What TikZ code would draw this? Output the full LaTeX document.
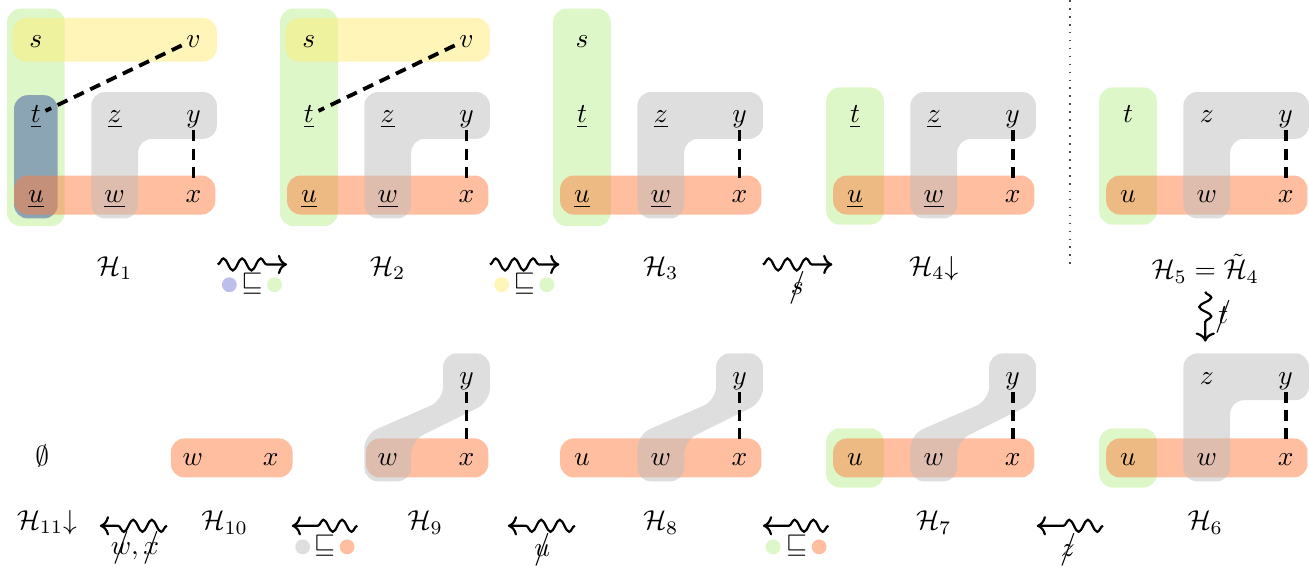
\documentclass[tikz,border=0pt]{standalone}
\usepackage{amsmath,amssymb}
\usetikzlibrary{arrows.meta, positioning, calc, decorations.pathmorphing, backgrounds}

\definecolor{hyYellow}{RGB}{255,235,115}
\definecolor{hyGreen}{RGB}{189,239,145}
\definecolor{hyBlue}{RGB}{58,83,160}
\definecolor{hyBlueDot}{RGB}{190,190,236}
\definecolor{hyRed}{RGB}{255,125,65}
\definecolor{hyGray}{RGB}{189,189,189}

\newcommand{\nope}[1]{\ooalign{$#1$\cr\hidewidth$\big/$\hidewidth\cr}}

\begin{document}
\begin{tikzpicture}[
		vtx/.style={inner sep=1.5pt, text height=1.5ex, text depth=0.25ex},
		link/.style={line width=1.4pt, dash pattern=on 4pt off 2.6pt},
		blob/.style={rounded corners=5pt, fill opacity=0.5},
		hgreen/.style={blob, fill=hyGreen},
		hyellow/.style={blob, fill=hyYellow},
		hblue/.style={blob, fill=hyBlue},
		hred/.style={blob, fill=hyRed},
		hgray/.style={blob, fill=hyGray},
		squig/.style={->, thick, decorate, decoration={snake, amplitude=2.2pt, segment length=6.8pt, post length=6.5pt}},
		dot/.style={circle, inner sep=0pt, minimum size=0.19cm, fill opacity=0.5},
		]
		\useasboundingbox (0,0) rectangle (16.78,-7.35);
		
		% H1
		\node[vtx] (s1) at (0.46,-0.51) {$s$};
		\node[vtx] (v1) at (2.48,-0.51) {$v$};
		\node[vtx] (t1) at (0.46,-1.48) {$\underline{t}$};
		\node[vtx] (z1) at (1.47,-1.48) {$\underline{z}$};
		\node[vtx] (y1) at (2.48,-1.48) {$y$};
		\node[vtx] (u1) at (0.46,-2.5) {$\underline{u}$};
		\node[vtx] (w1) at (1.47,-2.5) {$\underline{w}$};
		\node[vtx] (x1) at (2.48,-2.5) {$x$};
		\draw[link] (v1) -- (t1);
		\draw[link] (y1) -- (x1);
		\node (h1) at (1.47,-3.44) {$\mathcal{H}_1$};
		\begin{scope}[on background layer]
			\fill[hgreen] ($(s1)+(-0.37,0.4)$) rectangle ($(u1)+(0.37,-0.4)$);
			\fill[hyellow] ($(s1)+(-0.3,0.28)$) rectangle ($(v1)+(0.3,-0.28)$);
			\fill[hblue] ($(t1)+(-0.28,0.26)$) rectangle ($(u1)+(0.28,-0.3)$);
			\fill[hred] ($(u1)+(-0.28,0.25)$) rectangle ($(x1)+(0.28,-0.25)$);
			\fill[hgray] ($(w1)+(-0.3,-0.3)$) -- ($(w1)+(0.3,-0.3)$) |- ($(y1)+(0.3,-0.3)$)
			-- ($(y1)+(0.3,0.3)$) -- ($(z1)+(-0.3,0.3)$) -- cycle;
		\end{scope}
		
		% H2
		\begin{scope}[xshift=3.5cm]
			\node[vtx] (s2) at (0.46,-0.51) {$s$};
			\node[vtx] (v2) at (2.48,-0.51) {$v$};
			\node[vtx] (t2) at (0.46,-1.48) {$\underline{t}$};
			\node[vtx] (z2) at (1.47,-1.48) {$\underline{z}$};
			\node[vtx] (y2) at (2.48,-1.48) {$y$};
			\node[vtx] (u2) at (0.46,-2.5) {$\underline{u}$};
			\node[vtx] (w2) at (1.47,-2.5) {$\underline{w}$};
			\node[vtx] (x2) at (2.48,-2.5) {$x$};
			\draw[link] (v2) -- (t2);
			\draw[link] (y2) -- (x2);
			\node (h2) at (1.47,-3.44) {$\mathcal{H}_2$};
		\end{scope}
		\begin{scope}[on background layer]
			\fill[hgreen] ($(s2)+(-0.37,0.4)$) rectangle ($(u2)+(0.37,-0.4)$);
			\fill[hyellow] ($(s2)+(-0.3,0.28)$) rectangle ($(v2)+(0.3,-0.28)$);
			\fill[hred] ($(u2)+(-0.28,0.25)$) rectangle ($(x2)+(0.28,-0.25)$);
			\fill[hgray] ($(w2)+(-0.3,-0.3)$) -- ($(w2)+(0.3,-0.3)$) |- ($(y2)+(0.3,-0.3)$)
			-- ($(y2)+(0.3,0.3)$) -- ($(z2)+(-0.3,0.3)$) -- cycle;
		\end{scope}
		
		% H3
		\begin{scope}[xshift=7cm]
			\node[vtx] (s3) at (0.46,-0.51) {$s$};
			\node[vtx] (t3) at (0.46,-1.48) {$\underline{t}$};
			\node[vtx] (z3) at (1.47,-1.48) {$\underline{z}$};
			\node[vtx] (y3) at (2.48,-1.48) {$y$};
			\node[vtx] (u3) at (0.46,-2.5) {$\underline{u}$};
			\node[vtx] (w3) at (1.47,-2.5) {$\underline{w}$};
			\node[vtx] (x3) at (2.48,-2.5) {$x$};
			\draw[link] (y3) -- (x3);
			\node (h3) at (1.47,-3.44) {$\mathcal{H}_3$};
		\end{scope}
		\begin{scope}[on background layer]
			\fill[hgreen] ($(s3)+(-0.37,0.4)$) rectangle ($(u3)+(0.37,-0.4)$);
			\fill[hred] ($(u3)+(-0.28,0.25)$) rectangle ($(x3)+(0.28,-0.25)$);
			\fill[hgray] ($(w3)+(-0.3,-0.3)$) -- ($(w3)+(0.3,-0.3)$) |- ($(y3)+(0.3,-0.3)$)
			-- ($(y3)+(0.3,0.3)$) -- ($(z3)+(-0.3,0.3)$) -- cycle;
		\end{scope}
		
		% H4
		\begin{scope}[xshift=10.5cm]
			\node[vtx] (t4) at (0.46,-1.48) {$\underline{t}$};
			\node[vtx] (z4) at (1.47,-1.48) {$\underline{z}$};
			\node[vtx] (y4) at (2.48,-1.48) {$y$};
			\node[vtx] (u4) at (0.46,-2.5) {$\underline{u}$};
			\node[vtx] (w4) at (1.47,-2.5) {$\underline{w}$};
			\node[vtx] (x4) at (2.48,-2.5) {$x$};
			\draw[link] (y4) -- (x4);
			\node (h4) at (1.47,-3.44) {$\mathcal{H}_4{\downarrow}$};
		\end{scope}
		\begin{scope}[on background layer]
			\fill[hgreen] ($(t4)+(-0.37,0.36)$) rectangle ($(u4)+(0.37,-0.38)$);
			\fill[hred] ($(u4)+(-0.28,0.25)$) rectangle ($(x4)+(0.28,-0.25)$);
			\fill[hgray] ($(w4)+(-0.3,-0.3)$) -- ($(w4)+(0.3,-0.3)$) |- ($(y4)+(0.3,-0.3)$)
			-- ($(y4)+(0.3,0.3)$) -- ($(z4)+(-0.3,0.3)$) -- cycle;
		\end{scope}
		
		% H5
		\begin{scope}[xshift=14cm]
			\node[vtx] (t5) at (0.46,-1.48) {$t$};
			\node[vtx] (z5) at (1.47,-1.48) {$z$};
			\node[vtx] (y5) at (2.48,-1.48) {$y$};
			\node[vtx] (u5) at (0.46,-2.5) {$u$};
			\node[vtx] (w5) at (1.47,-2.5) {$w$};
			\node[vtx] (x5) at (2.48,-2.5) {$x$};
			\draw[link] (y5) -- (x5);
			\node (h5) at (1.45,-3.44) {$\mathcal{H}_5=\tilde{\mathcal{H}}_4$};
		\end{scope}
		\begin{scope}[on background layer]
			\fill[hgreen] ($(t5)+(-0.37,0.36)$) rectangle ($(u5)+(0.37,-0.38)$);
			\fill[hred] ($(u5)+(-0.28,0.25)$) rectangle ($(x5)+(0.28,-0.25)$);
			\fill[hgray] ($(w5)+(-0.3,-0.3)$) -- ($(w5)+(0.3,-0.3)$) |- ($(y5)+(0.3,-0.3)$)
			-- ($(y5)+(0.3,0.3)$) -- ($(z5)+(-0.3,0.3)$) -- cycle;
		\end{scope}
		
		% H6
		\begin{scope}[xshift=14cm]
			\node[vtx] (z6) at (1.47,-4.83) {$z$};
			\node[vtx] (y6) at (2.48,-4.83) {$y$};
			\node[vtx] (u6) at (0.46,-5.87) {$u$};
			\node[vtx] (w6) at (1.47,-5.87) {$w$};
			\node[vtx] (x6) at (2.48,-5.87) {$x$};
			\draw[link] (y6) -- (x6);
			\node (h6) at (1.45,-6.7) {$\mathcal{H}_6$};
		\end{scope}
		\begin{scope}[on background layer]
			\fill[hgreen] ($(u6)+(-0.37,0.38)$) rectangle ($(u6)+(0.37,-0.38)$);
			\fill[hred] ($(u6)+(-0.28,0.25)$) rectangle ($(x6)+(0.28,-0.25)$);
			\fill[hgray] ($(w6)+(-0.3,-0.3)$) -- ($(w6)+(0.3,-0.3)$) |- ($(y6)+(0.3,-0.3)$)
			-- ($(y6)+(0.3,0.3)$) -- ($(z6)+(-0.3,0.3)$) -- cycle;
		\end{scope}
		
		% H7
		\begin{scope}[xshift=10.5cm]
			\node[vtx] (y7) at (2.48,-4.83) {$y$};
			\node[vtx] (u7) at (0.46,-5.87) {$u$};
			\node[vtx] (w7) at (1.47,-5.87) {$w$};
			\node[vtx] (x7) at (2.48,-5.87) {$x$};
			\draw[link] (y7) -- (x7);
			\node (h7) at (1.47,-6.7) {$\mathcal{H}_7$};
		\end{scope}
		\begin{scope}[on background layer]
			\fill[hgreen] ($(u7)+(-0.37,0.38)$) rectangle ($(u7)+(0.37,-0.38)$);
			\fill[hred] ($(u7)+(-0.28,0.25)$) rectangle ($(x7)+(0.28,-0.25)$);
			\fill[hgray] ($(w7)+(-0.3,-0.3)$) -- ($(w7)+(0.3,-0.3)$) -- ($(w7)+(0.3,0.22)$)
			-- ($(y7)+(0.3,-0.32)$) -- ($(y7)+(0.3,0.3)$) -- ($(y7)+(-0.3,0.3)$)
			-- ($(y7)+(-0.3,-0.3)$) -- ($(w7)+(-0.3,0.3)$) -- cycle;
		\end{scope}
		
		% H8
		\begin{scope}[xshift=7cm]
			\node[vtx] (y8) at (2.48,-4.83) {$y$};
			\node[vtx] (u8) at (0.46,-5.87) {$u$};
			\node[vtx] (w8) at (1.47,-5.87) {$w$};
			\node[vtx] (x8) at (2.48,-5.87) {$x$};
			\draw[link] (y8) -- (x8);
			\node (h8) at (1.47,-6.7) {$\mathcal{H}_8$};
		\end{scope}
		\begin{scope}[on background layer]
			\fill[hred] ($(u8)+(-0.28,0.25)$) rectangle ($(x8)+(0.28,-0.25)$);
			\fill[hgray] ($(w8)+(-0.3,-0.3)$) -- ($(w8)+(0.3,-0.3)$) -- ($(w8)+(0.3,0.22)$)
			-- ($(y8)+(0.3,-0.32)$) -- ($(y8)+(0.3,0.3)$) -- ($(y8)+(-0.3,0.3)$)
			-- ($(y8)+(-0.3,-0.3)$) -- ($(w8)+(-0.3,0.3)$) -- cycle;
		\end{scope}
		
		% H9
		\begin{scope}[xshift=3.5cm]
			\node[vtx] (y9) at (2.48,-4.83) {$y$};
			\node[vtx] (w9) at (1.47,-5.87) {$w$};
			\node[vtx] (x9) at (2.48,-5.87) {$x$};
			\draw[link] (y9) -- (x9);
			\node (h9) at (1.95,-6.7) {$\mathcal{H}_9$};
		\end{scope}
		\begin{scope}[on background layer]
			\fill[hred] ($(w9)+(-0.28,0.25)$) rectangle ($(x9)+(0.28,-0.25)$);
			\fill[hgray] ($(w9)+(-0.3,-0.3)$) -- ($(w9)+(0.3,-0.3)$) -- ($(w9)+(0.3,0.22)$)
			-- ($(y9)+(0.3,-0.32)$) -- ($(y9)+(0.3,0.3)$) -- ($(y9)+(-0.3,0.3)$)
			-- ($(y9)+(-0.3,-0.3)$) -- ($(w9)+(-0.3,0.3)$) -- cycle;
		\end{scope}
		
		% H10 and H11
		\node[vtx] (w10) at (2.47,-5.87) {$w$};
		\node[vtx] (x10) at (3.47,-5.87) {$x$};
		\node (h10) at (2.88,-6.7) {$\mathcal{H}_{10}$};
		\begin{scope}[on background layer]
			\fill[hred] ($(w10)+(-0.28,0.25)$) rectangle ($(x10)+(0.28,-0.25)$);
		\end{scope}
		\node[vtx] (e11) at (0.54,-5.87) {$\emptyset$};
		\node (h11) at (0.6,-6.7) {$\mathcal{H}_{11}{\downarrow}$};
		
		% steps, top row
		\coordinate (a1s) at (2.79,-3.39);
		\coordinate (a1e) at (3.68,-3.39);
		\draw[squig] (a1s) -- (a1e);
		\node[dot, fill=hyBlueDot, fill opacity=1] (d1a) at (2.94,-3.65) {};
		\node (q1) at (3.23,-3.64) {$\sqsubseteq$};
		\node[dot, fill=hyGreen] (d1b) at (3.52,-3.65) {};
		
		\coordinate (a2s) at (6.28,-3.39);
		\coordinate (a2e) at (7.17,-3.39);
		\draw[squig] (a2s) -- (a2e);
		\node[dot, fill=hyYellow] (d2a) at (6.43,-3.65) {};
		\node (q2) at (6.72,-3.64) {$\sqsubseteq$};
		\node[dot, fill=hyGreen] (d2b) at (7.01,-3.65) {};
		
		\coordinate (a3s) at (9.78,-3.39);
		\coordinate (a3e) at (10.67,-3.39);
		\draw[squig] (a3s) -- (a3e);
		\node (n3) at (10.22,-3.76) {\nope{s}};
		
		% dotted separator
		\coordinate (sepa) at (13.72,0);
		\coordinate (sepb) at (13.72,-3.4);
		\draw[black!70, line width=0.6pt, dash pattern=on 0.6pt off 2.3pt] (sepa) -- (sepb);
		
		% step down
		\coordinate (a5s) at (15.45,-3.74);
		\coordinate (a5e) at (15.45,-4.38);
		\draw[squig] (a5s) -- (a5e);
		\node (n5) at (15.68,-4.1) {\nope{t}};
		
		% steps, bottom row
		\coordinate (a6s) at (14.14,-6.74);
		\coordinate (a6e) at (13.29,-6.74);
		\draw[squig] (a6s) -- (a6e);
		\node (n6) at (13.69,-7.12) {\nope{z}};
		
		\coordinate (a7s) at (10.62,-6.74);
		\coordinate (a7e) at (9.78,-6.74);
		\draw[squig] (a7s) -- (a7e);
		\node[dot, fill=hyGreen] (d7a) at (9.91,-7.01) {};
		\node (q7) at (10.21,-7.0) {$\sqsubseteq$};
		\node[dot, fill=hyRed] (d7b) at (10.5,-7.01) {};
		
		\coordinate (a8s) at (7.37,-6.74);
		\coordinate (a8e) at (6.51,-6.74);
		\draw[squig] (a8s) -- (a8e);
		\node (n8) at (6.95,-7.12) {\nope{u}};
		
		\coordinate (a9s) at (4.58,-6.74);
		\coordinate (a9e) at (3.74,-6.74);
		\draw[squig] (a9s) -- (a9e);
		\node[dot, fill=hyGray] (d9a) at (3.88,-7.01) {};
		\node (q9) at (4.16,-7.0) {$\sqsubseteq$};
		\node[dot, fill=hyRed] (d9b) at (4.45,-7.01) {};
		
		\coordinate (a10s) at (2.14,-6.74);
		\coordinate (a10e) at (1.28,-6.74);
		\draw[squig] (a10s) -- (a10e);
		\node (n10) at (1.73,-7.09) {\nope{w}$,\,$\nope{x}};
	\end{tikzpicture}
\end{document}
